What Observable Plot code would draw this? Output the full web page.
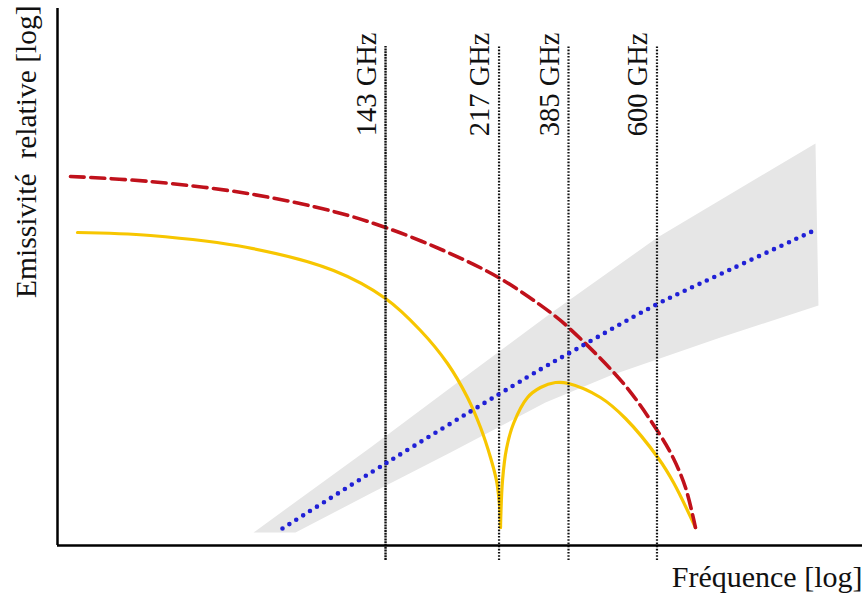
<!DOCTYPE html>
<html>
<head>
<meta charset="utf-8">
<script src="https://cdn.jsdelivr.net/npm/d3@7"></script>
<script src="https://cdn.jsdelivr.net/npm/@observablehq/plot@0.6"></script>
<style>
  html, body { margin: 0; padding: 0; background: #ffffff; }
  #chart { width: 864px; height: 594px; }
</style>
</head>
<body>
<div id="chart"></div>
<script>
// Channel frequencies and their (schematic, log-like) positions on the x axis
const bandLabels = ["143 GHz", "217 GHz", "385 GHz", "600 GHz"];
const bandPositions = [40.75, 54.85, 63.48, 74.47];
const bandSolid = [true, false, false, false];

// Red dashed curve: x, y (relative log units)
const redX = [1.61, 11.55, 23.60, 34.29, 40.75, 47.95, 54.78, 61.24, 63.48, 70.31, 74.66, 76.52, 78.01, 79.25];
const redY = [68.72, 67.78, 65.55, 62.20, 59.22, 54.93, 49.91, 43.39, 40.60, 30.17, 21.04, 16.20, 10.80, 3.35];

// Yellow curve, left branch (down to the null at 217 GHz)
const yellowLeftX = [2.48, 11.55, 23.60, 34.29, 40.75, 45.09, 48.45, 50.93, 52.55, 53.79, 54.53, 54.91, 55.03];
const yellowLeftY = [58.29, 57.73, 55.49, 51.21, 46.00, 40.04, 33.89, 27.56, 21.97, 16.39, 12.10, 7.45, 3.35];
// Yellow curve, right branch
const yellowRightX = [55.03, 55.28, 55.78, 56.65, 58.39, 60.00, 61.86, 63.48, 67.45, 70.56, 74.66, 76.52, 79.25];
const yellowRightY = [3.35, 12.10, 18.06, 22.72, 27.56, 29.42, 30.35, 30.17, 27.56, 23.65, 16.20, 11.73, 3.35];

// Blue dotted curve
const blueX = [27.95, 40.75, 54.78, 61.24, 63.48, 74.41, 81.99, 94.53];
const blueY = [3.17, 15.27, 28.12, 33.89, 35.75, 44.88, 50.28, 59.03];

// Grey uncertainty band edges
const bandUpperX = [24.35, 38.88, 49.19, 61.24, 74.53, 94.16];
const bandUpperY = [2.42, 18.25, 29.80, 43.20, 57.36, 74.86];
const bandLowerX = [29.57, 38.88, 48.82, 60.62, 68.70, 82.36, 94.53];
const bandLowerY = [2.42, 9.68, 17.32, 26.63, 31.66, 38.73, 44.69];

// Vertical extent of the channel lines
const bandLineBottom = -2.79;
const bandLineTop = 92.92;

const xLabel = "Fréquence [log]";
const yLabel = "Emissivité  relative [log]";

const zip = (xs, ys) => xs.map((x, i) => ({x, y: ys[i]}));
const red = zip(redX, redY);
const yellowLeft = zip(yellowLeftX, yellowLeftY);
const yellowRight = zip(yellowRightX, yellowRightY);
const blue = zip(blueX, blueY);
const bandPoly = zip(bandUpperX, bandUpperY).concat(zip(bandLowerX, bandLowerY).reverse());
const bands = bandLabels.map((label, i) => ({label, x: bandPositions[i], solid: bandSolid[i]}));

const serif = "'Liberation Serif', 'DejaVu Serif', serif";

const chart = Plot.plot({
  width: 864,
  height: 594,
  marginTop: 8,
  marginRight: 2,
  marginBottom: 49,
  marginLeft: 57,
  x: {domain: [0, 100], axis: null},
  y: {domain: [0, 100], axis: null},
  style: {background: "#ffffff", fontFamily: serif},
  marks: [
    Plot.line(bandPoly, {x: "x", y: "y", curve: "linear-closed", fill: "#e6e6e6", stroke: "none"}),
    Plot.line(yellowLeft, {x: "x", y: "y", curve: "catmull-rom", stroke: "#f7c600", strokeWidth: 3.2}),
    Plot.line(yellowRight, {x: "x", y: "y", curve: "catmull-rom", stroke: "#f7c600", strokeWidth: 3.2}),
    Plot.line(red, {x: "x", y: "y", curve: "catmull-rom", stroke: "#c0111b", strokeWidth: 3.6, strokeDasharray: "14,6.5"}),
    Plot.ruleX(bands.filter(d => d.solid), {x: "x", y1: bandLineBottom, y2: bandLineTop, stroke: "#111", strokeWidth: 2.4, strokeDasharray: "2,0.8"}),
    Plot.ruleX(bands.filter(d => !d.solid), {x: "x", y1: bandLineBottom, y2: bandLineTop, stroke: "#111", strokeWidth: 2.2, strokeDasharray: "1.6,1.6"}),
    Plot.line(blue, {x: "x", y: "y", curve: "catmull-rom", stroke: "#2020d6", strokeWidth: 4.6, strokeDasharray: "0,8.2", strokeLinecap: "round"}),
    Plot.ruleX([0], {y1: 0, y2: 100, stroke: "#000", strokeWidth: 2.5}),
    Plot.ruleY([0], {x1: 0, x2: 100, stroke: "#000", strokeWidth: 2.5}),
    Plot.text(bands, {x: "x", text: "label", frameAnchor: "top", dx: -10, dy: 24, rotate: -90, textAnchor: "end", lineAnchor: "bottom", fontSize: 28.5, fill: "#111"}),
    Plot.text([yLabel], {text: d => d, frameAnchor: "top-left", dx: -22, dy: -3, rotate: -90, textAnchor: "end", lineAnchor: "bottom", fontSize: 29.5, fill: "#111"}),
    Plot.text([xLabel], {text: d => d, frameAnchor: "bottom-right", dy: 41, textAnchor: "end", lineAnchor: "bottom", fontSize: 30, fill: "#111"})
  ]
});
chart.querySelectorAll("text").forEach(t => { t.setAttribute("xml:space", "preserve"); t.style.whiteSpace = "pre"; });
document.getElementById("chart").appendChild(chart);
</script>
</body>
</html>
